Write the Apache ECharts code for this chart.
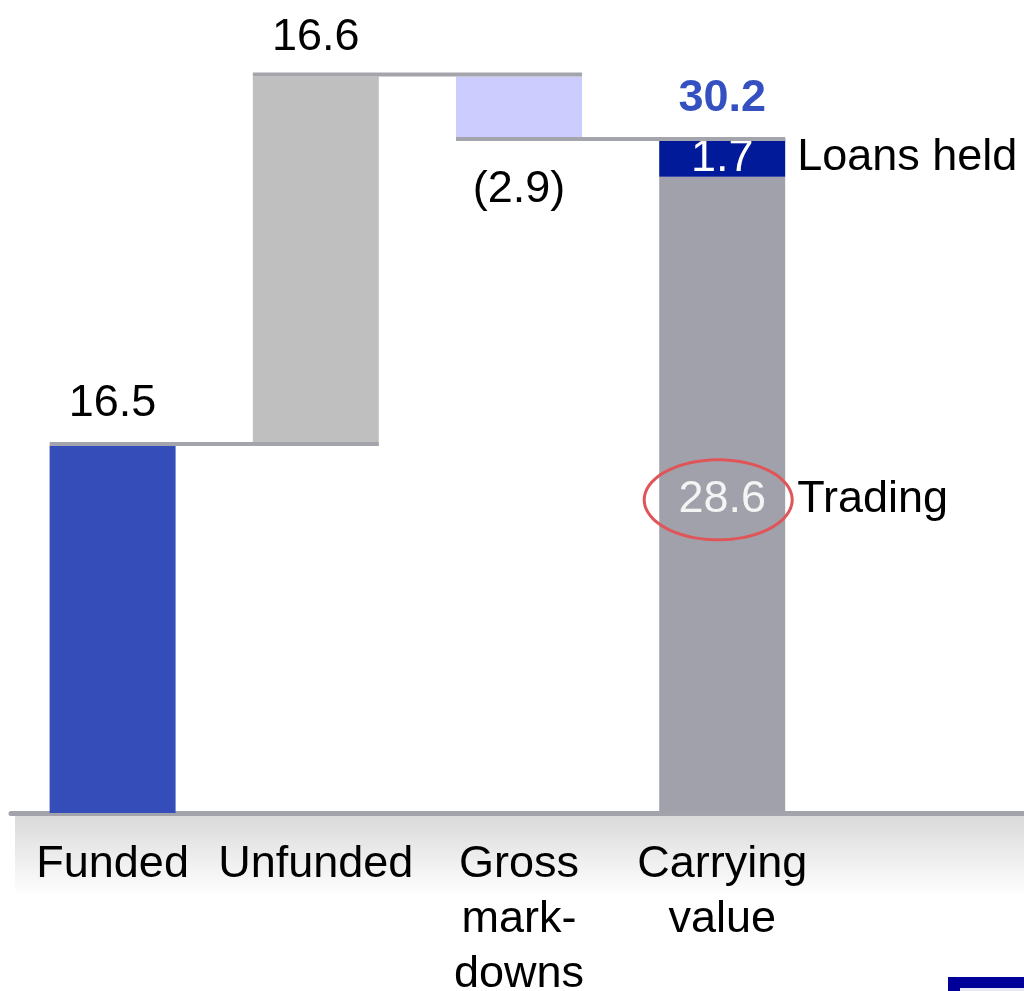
<!DOCTYPE html>
<html lang="en">
<head>
    <meta charset="UTF-8">
    <title>Funded / Unfunded / Carrying value</title>
    <script src="https://cdn.jsdelivr.net/npm/echarts@6/dist/echarts.min.js"></script>
    <style>
        html, body { margin: 0; padding: 0; background: #fff; }
        #main { width: 1024px; height: 991px; }
    </style>
</head>
<body>
    <div id="main"></div>
    <script>
        // data
        var categories = ['Funded', 'Unfunded', 'Gross\nmark-\ndowns', 'Carrying\nvalue', ''];
        var funded = [16.5, '-', '-', '-', '-'];
        var unfunded = ['-', 16.6, '-', '-', '-'];
        var markdowns = ['-', '-', 2.9, '-', '-'];
        var trading = ['-', '-', '-', 28.6, '-'];
        var loansHeld = ['-', '-', '-', 1.7, '-'];
        var carryingTotal = 30.2;
        var noteNames = ['Loans held', 'Trading'];

        var FONT = "'Liberation Sans', Arial, sans-serif";
        var FS = 45;
        var BAR = 0.62;

        // invisible base under each floating bar
        var level1 = funded[0] + unfunded[1];
        var base = [0, funded[0], level1 - markdowns[2], 0, '-'];
        // connector lines: [category, level]
        var connectors = [[0, funded[0]], [1, level1], [2, level1 - markdowns[2]]];
        // side notes: [category, level, index into noteNames]
        var notes = [[3, trading[3] + loansHeld[3] / 2, 0], [3, trading[3] / 2, 1]];

        function bandWidth(api) {
            return api.size([1, 0])[0] * BAR;
        }

        function renderConnector(params, api) {
            var i = api.value(0), v = api.value(1);
            var a = api.coord([i, v]);
            var b = api.coord([i + 1, v]);
            var bw = bandWidth(api);
            return {
                type: 'line',
                shape: { x1: a[0] - bw / 2, y1: a[1] - 2, x2: b[0] + bw / 2, y2: b[1] - 2 },
                style: { stroke: '#A4A4AC', lineWidth: 4 }
            };
        }

        function renderNote(params, api) {
            var c = api.coord([api.value(0), api.value(1)]);
            var bw = bandWidth(api);
            var idx = api.value(2);
            var children = [{
                type: 'text',
                x: c[0] + bw / 2 + 12,
                y: c[1] + (idx === 1 ? 5 : 0),
                style: {
                    text: noteNames[idx],
                    fill: '#000',
                    font: FS + 'px ' + FONT,
                    align: 'left',
                    verticalAlign: 'middle'
                }
            }];
            if (idx === 1) {
                // red ring round the trading value
                var cx = c[0] - 4, cy = c[1] + 5, rx = 74, ry = 40, pts = [];
                for (var k = 0; k < 90; k++) {
                    var t = k / 90 * Math.PI * 2;
                    pts.push([cx + rx * Math.cos(t), cy + ry * Math.sin(t)]);
                }
                children.push({
                    type: 'polygon',
                    shape: { points: pts },
                    style: { fill: 'none', stroke: '#E05558', lineWidth: 3 }
                });
            }
            return { type: 'group', children: children };
        }

        function renderTotal(params, api) {
            var c = api.coord([api.value(0), api.value(1)]);
            return {
                type: 'text',
                x: c[0],
                y: c[1] - 42,
                style: {
                    text: api.value(1).toFixed(1),
                    fill: '#3550C0',
                    font: 'bold ' + FS + 'px ' + FONT,
                    align: 'center',
                    verticalAlign: 'middle'
                }
            };
        }

        var chart = echarts.init(document.getElementById('main'));
        var option = {
            backgroundColor: '#fff',
            animation: false,
            grid: { left: 11, width: 1016, top: 12, bottom: 178, outerBoundsMode: 'none', containLabel: false },
            xAxis: {
                type: 'category',
                data: categories,
                axisLine: { lineStyle: { color: '#A3A3AB', width: 5 } },
                axisTick: { show: false },
                axisLabel: {
                    interval: 0,
                    margin: 24,
                    color: '#000',
                    fontSize: FS,
                    lineHeight: 55,
                    fontFamily: FONT
                }
            },
            yAxis: { type: 'value', min: 0, max: 36, show: false },
            graphic: [
                {
                    type: 'rect', left: 15, top: 816, z: -1, silent: true,
                    shape: { width: 1009, height: 80 },
                    style: {
                        fill: new echarts.graphic.LinearGradient(0, 0, 0, 1, [
                            { offset: 0, color: '#DADADA' },
                            { offset: 1, color: '#FFFFFF' }
                        ])
                    }
                },
                { type: 'rect', left: 948, top: 977, silent: true, shape: { width: 76, height: 14 }, style: { fill: '#000099' } },
                { type: 'rect', left: 960, top: 988, silent: true, shape: { width: 64, height: 3 }, style: { fill: '#E8E8F4' } }
            ],
            series: [
                {
                    type: 'bar', stack: 'w', data: base, barWidth: BAR * 100 + '%',
                    itemStyle: { color: 'transparent' }, silent: true
                },
                {
                    type: 'bar', stack: 'w', data: funded,
                    itemStyle: { color: '#344DB8' },
                    label: { show: true, position: 'top', distance: 20, color: '#000', fontSize: FS, fontFamily: FONT }
                },
                {
                    type: 'bar', stack: 'w', data: unfunded,
                    itemStyle: { color: '#BFBFBF' },
                    label: { show: true, position: 'top', distance: 16, color: '#000', fontSize: FS, fontFamily: FONT }
                },
                {
                    type: 'bar', stack: 'w', data: markdowns,
                    itemStyle: { color: '#CCCCFF' },
                    label: {
                        show: true, position: 'bottom', distance: 26, color: '#000', fontSize: FS, fontFamily: FONT,
                        formatter: function (p) { return '(' + p.value.toFixed(1) + ')'; }
                    }
                },
                {
                    type: 'bar', stack: 'w', data: trading,
                    itemStyle: { color: '#A1A1AB' },
                    label: { show: true, position: 'inside', offset: [0, 5], color: '#F4F4F4', fontSize: FS, fontFamily: FONT }
                },
                {
                    type: 'bar', stack: 'w', data: loansHeld,
                    itemStyle: { color: '#001A99' },
                    label: { show: true, position: 'inside', offset: [0, 1], color: '#FFFFFF', fontSize: FS, fontFamily: FONT }
                },
                {
                    type: 'custom', data: connectors, renderItem: renderConnector, z: 5, silent: true
                },
                {
                    type: 'custom', data: notes, renderItem: renderNote, z: 6, silent: true
                },
                {
                    type: 'custom', data: [[3, carryingTotal]], renderItem: renderTotal, z: 6, silent: true
                }
            ]
        };
        chart.setOption(option);
    </script>
</body>
</html>
